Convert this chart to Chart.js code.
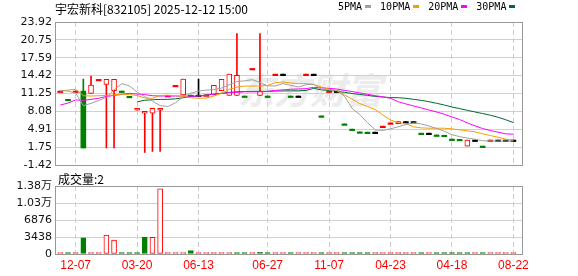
<!DOCTYPE html>
<html>
<head>
<meta charset="utf-8">
<script src="https://cdn.jsdelivr.net/npm/chart.js@4.4.1/dist/chart.umd.min.js"></script>
<style>
    html, body { margin: 0; padding: 0; background: #fff; }
    #wrap { position: relative; width: 578px; height: 276px; overflow: hidden; }
    canvas { position: absolute; left: 0; }
    #price-chart { top: 0; }
    #vol-chart { top: 170px; }
    .txt { position: absolute; white-space: nowrap; color: #000; line-height: 16px; }
    #title { left: 55px; top: 0px; font: 12px "Noto Sans CJK SC", sans-serif; }
    #vol-title { left: 58px; top: 170px; font: 12px "Noto Sans CJK SC", sans-serif; }
    #legend { left: 338px; top: 1px; font: 10px "DejaVu Sans Mono", monospace; }
    #legend span.sw { display: inline-block; width: 6px; height: 3px; margin: 0 9px 2px 3px; vertical-align: middle; }
    #watermark { left: 238px; top: 66px; font: italic bold 36px "Noto Sans CJK SC", sans-serif; color: #ececec; line-height: 44px; }
</style>
</head>
<body>
<div id="wrap">
    <div class="txt" id="watermark">东方财富</div>
    <canvas id="price-chart" width="578" height="182"></canvas>
    <canvas id="vol-chart" width="578" height="106"></canvas>
    <div class="txt" id="title">宇宏新科[832105] 2025-12-12 15:00</div>
    <div class="txt" id="legend">5PMA<span class="sw" style="background:#a0a0a0"></span>10PMA<span class="sw" style="background:#f0a000"></span>20PMA<span class="sw" style="background:#ff00ff"></span>30PMA<span class="sw" style="background:#006a33"></span></div>
    <div class="txt" id="vol-title">成交量:2</div>
</div>
<script>
// Data, one entry per trading slot
const opens = [11.68, 10.22, 11.68, 11.68, 11.28, 13.75, 12.87, 11.74, 11.68, 10.75,
    8.28, 7.75, 7.75, 8.28, 10.9, 12.69, 10.98, 10.95, 10.95, 11.0,
    10.98, 11.74, 10.93, 10.93, 10.8, 15.69, 10.93, 10.8, 14.68, 14.68,
    10.8, 10.8, 14.68, 14.68, 7.28, 11.68, 11.68, 5.86, 4.93, 4.45,
    4.4, 4.4, 5.46, 6.04, 5.9, 6.27, 6.27, 4.22, 4.22, 3.9,
    3.85, 3.17, 3.12, 1.93, 3.0, 1.93, 3.0, 3.0, 3.0, 3.0];
const highs = [11.68, 10.22, 11.68, 13.8, 14.33, 13.75, 13.75, 13.75, 11.68, 10.75,
    8.63, 8.1, 8.63, 8.63, 10.9, 12.69, 13.8, 10.95, 13.8, 11.0,
    12.69, 13.75, 14.68, 21.86, 10.8, 15.69, 21.86, 10.8, 14.68, 14.68,
    10.8, 10.8, 14.68, 14.68, 7.28, 11.68, 11.68, 5.86, 4.93, 4.45,
    4.4, 4.4, 5.46, 6.04, 6.27, 6.27, 6.27, 4.22, 4.22, 3.9,
    3.85, 3.17, 3.12, 3.0, 3.0, 1.93, 3.0, 3.0, 3.0, 3.0];
const lows = [11.68, 10.22, 11.68, 1.6, 11.28, 13.75, 1.6, 1.6, 11.68, 10.75,
    8.28, 0.8, 0.98, 0.98, 10.9, 12.69, 10.98, 10.95, 10.95, 11.0,
    10.98, 11.74, 10.93, 10.93, 10.8, 15.69, 10.93, 10.8, 14.68, 14.68,
    10.8, 10.8, 14.68, 14.68, 7.28, 11.68, 11.68, 5.86, 4.93, 4.45,
    4.4, 4.4, 5.46, 6.04, 5.9, 6.27, 6.27, 4.22, 4.22, 3.9,
    3.85, 3.17, 3.12, 1.93, 3.0, 1.93, 3.0, 3.0, 3.0, 3.0];
const closes = [11.68, 10.22, 11.68, 1.6, 12.74, 13.75, 13.75, 13.75, 11.68, 10.75,
    8.63, 8.1, 8.63, 8.63, 10.9, 12.69, 13.8, 10.95, 10.95, 11.0,
    12.69, 13.75, 14.68, 14.45, 10.8, 15.69, 11.68, 10.8, 14.68, 14.68,
    10.8, 10.8, 14.68, 14.68, 7.28, 11.68, 11.68, 5.86, 4.93, 4.45,
    4.4, 4.4, 5.46, 6.04, 6.27, 6.27, 6.27, 4.22, 4.22, 3.9,
    3.85, 3.17, 3.12, 3.0, 3.0, 1.93, 3.0, 3.0, 3.0, 3.0];
const volumes = [150, 150, 150, 3250, 150, 150, 3850, 2800, 150, 150,
    150, 3400, 3380, 13200, 150, 150, 150, 700, 150, 150,
    150, 150, 150, 150, 150, 150, 350, 150, 150, 150,
    150, 150, 150, 150, 150, 150, 150, 150, 150, 150,
    150, 150, 150, 150, 150, 150, 150, 150, 150, 150,
    150, 150, 150, 150, 150, 150, 150, 150, 150, 2];

const ma5 = [11.8, 11.68, 11.33, 9.1, 9.5, 10.0, 10.6, 11.9, 13.0, 12.6,
    11.5, 10.7, 9.9, 9.1, 8.95, 9.6, 10.7, 11.3, 11.7, 11.85,
    11.95, 12.2, 12.8, 13.35, 13.5, 13.7, 13.2, 12.6, 12.6, 13.0,
    12.7, 12.4, 12.8, 12.9, 12.0, 11.9, 11.8, 10.8, 8.6, 7.5,
    6.1, 4.8, 4.7, 5.0, 5.35, 5.75, 6.05, 5.85, 5.5, 5.05,
    4.55, 3.95, 3.6, 3.35, 3.15, 2.88, 2.84, 2.82, 2.82, 2.85];
const ma10 = [11.68, 11.86, 12.0, 10.86, 10.8, 10.86, 10.9, 11.0, 11.15, 11.05,
    10.9, 10.45, 10.4, 10.9, 10.95, 10.86, 10.74, 10.5, 10.4, 10.45,
    10.8, 11.28, 11.98, 12.38, 12.57, 12.57, 12.57, 12.68, 13.15, 13.3,
    13.12, 13.0, 13.0, 12.85, 12.4, 12.0, 11.75, 11.0, 10.25, 9.45,
    8.95, 8.4, 7.45, 6.55, 6.1, 5.9, 5.35, 5.16, 5.1, 5.1,
    5.1, 4.98, 4.81, 4.63, 4.46, 4.1, 3.8, 3.5, 3.15, 2.98];
const ma20 = [9.21, 9.55, 10.1, 10.03, 10.22, 10.4, 10.74, 10.9, 11.1, 11.28,
    11.15, 11.05, 10.86, 10.8, 10.8, 10.8, 10.78, 10.77, 10.8, 10.92,
    11.15, 11.28, 11.38, 11.45, 11.56, 11.56, 11.56, 11.62, 11.8, 11.9,
    12.0, 12.05, 12.1, 12.35, 12.25, 12.15, 12.05, 11.8, 11.6, 11.35,
    11.1, 10.85, 10.65, 10.4, 9.8, 9.4, 9.05, 8.7, 8.33, 7.98,
    7.57, 7.09, 6.63, 6.04, 5.51, 5.04, 4.69, 4.4, 4.1, 4.04];
const ma30 = [null, null, null, null, null, null, null, null, null, null,
    9.77, 10.05, 10.15, 10.2, 10.22, 10.3, 10.5, 10.7, 10.8, 10.98,
    11.15, 11.3, 11.45, 11.55, 11.6, 11.62, 11.62, 11.62, 11.68, 11.7,
    11.72, 11.72, 11.8, 12.15, 11.9, 11.78, 11.65, 11.45, 11.25, 11.08,
    10.92, 10.74, 10.63, 10.52, 10.5, 10.4, 10.22, 10.04, 9.8, 9.51,
    9.21, 8.86, 8.57, 8.27, 7.98, 7.69, 7.4, 7.04, 6.6, 6.1];

const tickSlots = [2, 10, 18, 27, 35, 43, 51, 59];
const tickLabels = ['12-07', '03-20', '06-13', '06-27', '11-07', '04-23', '04-18', '08-22'];
const priceTicks = [-1.42, 1.75, 4.91, 8.08, 11.25, 14.42, 17.59, 20.75, 23.92];
const volumeTicks = [0, 3438, 6876, 10314, 13752];

// Colors / layout
const RED = '#ff0000';
const GREEN = '#008000';
const BLACK = '#000000';
const X_MIN = -0.69;
const X_MAX = 60.12;
const AXIS_FONT = { family: 'DejaVu Sans', size: 11 };

function prevClose(i) {
    return i > 0 ? closes[i - 1] : null;
}

function candleColor(i) {
    if (closes[i] > opens[i]) return RED;
    if (closes[i] < opens[i]) return GREEN;
    const p = prevClose(i);
    if (p === null || closes[i] > p) return RED;
    if (closes[i] < p) return GREEN;
    return BLACK;
}

function volumeUp(i) {
    const p = prevClose(i);
    return p === null || closes[i] >= p;
}

const xy = arr => arr.map((v, i) => ({ x: i, y: v }));

// draws the grey box round the plot area
const framePlugin = {
    id: 'frame',
    afterDraw(chart) {
        const { ctx, chartArea: a } = chart;
        ctx.save();
        ctx.strokeStyle = '#999999';
        ctx.lineWidth = 1;
        ctx.strokeRect(Math.round(a.left) + 0.5, Math.round(a.top) + 0.5,
            Math.round(a.right - a.left), Math.round(a.bottom - a.top));
        ctx.restore();
    }
};

function xScale(showLabels) {
    return {
        type: 'linear',
        offset: false,
        min: X_MIN,
        max: X_MAX,
        afterBuildTicks: s => { s.ticks = tickSlots.map(v => ({ value: v })); },
        afterFit: s => { s.height = showLabels ? 22 : 0; },
        grid: { color: '#cfcfcf', drawTicks: false, offset: false },
        border: { display: false, dash: [5, 3] },
        ticks: {
            display: showLabels,
            autoSkip: false,
            maxRotation: 0,
            padding: 4,
            color: RED,
            font: { family: 'Liberation Sans', size: 12 },
            callback: (v, i) => tickLabels[i]
        }
    };
}

const lineStyle = color => ({
    type: 'line',
    borderColor: color,
    borderWidth: 1,
    pointRadius: 0,
    tension: 0,
    order: 0
});

// Price chart
new Chart(document.getElementById('price-chart'), {
    type: 'bar',
    data: {
        datasets: [
            Object.assign(lineStyle('#a0a0a0'), { data: xy(ma5) }),
            Object.assign(lineStyle('#f0a000'), { data: xy(ma10) }),
            Object.assign(lineStyle('#ff00ff'), { data: xy(ma20) }),
            Object.assign(lineStyle('#006a33'), { data: xy(ma30) }),
            {
                type: 'bar',
                data: opens.map((o, i) => ({ x: i, y: [o, closes[i]] })),
                backgroundColor: c => closes[c.dataIndex] > opens[c.dataIndex] ? '#ffffff' : candleColor(c.dataIndex),
                borderColor: c => candleColor(c.dataIndex),
                borderWidth: c => closes[c.dataIndex] > opens[c.dataIndex] ? 1 : 0,
                borderSkipped: false,
                barThickness: 5,
                minBarLength: 1.5,
                grouped: false,
                order: 1
            },
            {
                type: 'bar',
                data: lows.map((l, i) => ({ x: i, y: [l, highs[i]] })),
                backgroundColor: c => candleColor(c.dataIndex),
                borderWidth: 0,
                barThickness: 1,
                grouped: false,
                order: 2
            }
        ]
    },
    options: {
        responsive: false,
        animation: false,
        layout: { padding: { top: 22, right: 56, bottom: 17, left: 0 } },
        plugins: { legend: { display: false }, tooltip: { enabled: false } },
        scales: {
            x: xScale(false),
            y: {
                min: -1.42,
                max: 23.92,
                afterBuildTicks: s => { s.ticks = priceTicks.map(v => ({ value: v })); },
                afterFit: s => { s.width = 55; },
                grid: { color: '#d0d0d0', drawTicks: false },
                border: { display: false },
                ticks: { padding: 3, color: '#111', font: AXIS_FONT, callback: v => v.toFixed(2) }
            }
        }
    },
    plugins: [framePlugin]
});

// Volume chart
new Chart(document.getElementById('vol-chart'), {
    type: 'bar',
    data: {
        datasets: [{
            data: xy(volumes),
            backgroundColor: c => volumeUp(c.dataIndex) ? '#ffffff' : GREEN,
            borderColor: c => volumeUp(c.dataIndex) ? RED : GREEN,
            borderWidth: 1,
            borderSkipped: false,
            barThickness: 5,
            minBarLength: 1.5,
            grouped: false
        }]
    },
    options: {
        responsive: false,
        animation: false,
        layout: { padding: { top: 16, right: 56, bottom: 0, left: 0 } },
        plugins: { legend: { display: false }, tooltip: { enabled: false } },
        scales: {
            x: xScale(true),
            y: {
                min: 0,
                max: 13752,
                afterBuildTicks: s => { s.ticks = volumeTicks.map(v => ({ value: v })); },
                afterFit: s => { s.width = 55; },
                grid: { color: '#d0d0d0', drawTicks: false },
                border: { display: false },
                ticks: {
                    padding: 3,
                    color: '#111',
                    font: { family: 'DejaVu Sans, Noto Sans CJK SC', size: 11 },
                    callback: v => v >= 10000 ? (v / 10000).toFixed(2) + '万' : String(v)
                }
            }
        }
    },
    plugins: [framePlugin]
});
</script>
</body>
</html>
